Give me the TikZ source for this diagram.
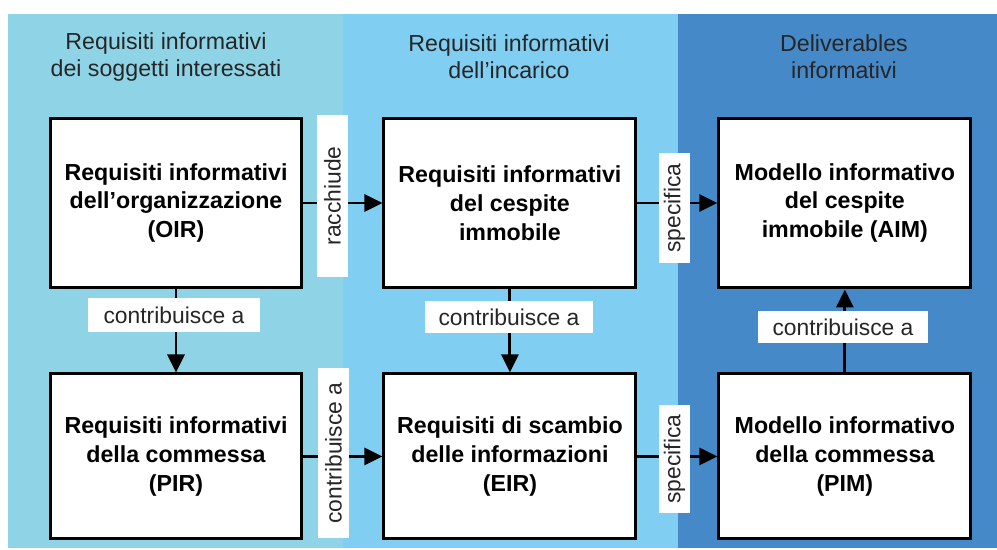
\documentclass[tikz,border=0pt]{standalone}
\usepackage{fontspec}
\setmainfont{Liberation Sans}
\usetikzlibrary{positioning,calc,arrows.meta}

\definecolor{colStake}{HTML}{8FD4E6}
\definecolor{colAppt}{HTML}{80CFF3}
\definecolor{colDeliv}{HTML}{4589C9}

\tikzset{
    reqbox/.style={draw=black, line width=1.7pt, fill=white, align=center,
        minimum width=5.04cm, minimum height=3.4cm, inner sep=0pt,
        font=\fontsize{13.2}{16.4}\selectfont\bfseries},
    linklabel/.style={fill=white, inner sep=0pt, minimum height=0.63cm,
        font=\fontsize{13}{15}\selectfont, text=black!85},
    colhead/.style={align=center, font=\fontsize{13.2}{15.4}\selectfont, text=black!85},
    flow/.style={line width=1.7pt, -{Triangle[length=0.36cm, width=0.34cm]}},
}

\begin{document}
\begin{tikzpicture}[x=0.02cm, y=-0.02cm]
            % columns
            \fill[white] (0, 0) rectangle (997, 550);
            \fill[colStake] (8, 14) rectangle (343, 548);
            \fill[colAppt] (343, 14) rectangle (678, 548);
            \fill[colDeliv] (678, 14) rectangle (997, 548);

            \node[colhead] (headStake) at (166, 57) {Requisiti informativi\\dei soggetti interessati};
            \node[colhead] (headAppt) at (509, 57) {Requisiti informativi\\dell’incarico};
            \node[colhead] (headDeliv) at (844, 57) {Deliverables\\informativi};

            % boxes
            \node[reqbox] (oir) at (176, 203) {Requisiti informativi\\dell’organizzazione\\(OIR)};
            \node[reqbox, right=1.58cm of oir] (air) {Requisiti informativi\\del cespite\\immobile};
            \node[reqbox, right=1.6cm of air] (aim) {Modello informativo\\del cespite\\immobile (AIM)};

            \node[reqbox, minimum height=3.3cm, below=1.66cm of oir] (pir) {Requisiti informativi\\della commessa\\(PIR)};
            \node[reqbox, minimum height=3.3cm, right=1.58cm of pir] (eir) {Requisiti di scambio\\delle informazioni\\(EIR)};
            \node[reqbox, minimum height=3.3cm, right=1.6cm of eir] (pim) {Modello informativo\\della commessa\\(PIM)};

            % links
            \draw[flow] (oir) -- (air);
            \draw[flow] (air) -- (aim);
            \draw[flow] (pir) -- (eir);
            \draw[flow] (eir) -- (pim);
            \draw[flow] (oir) -- (pir);
            \draw[flow] (air) -- (eir);
            \draw[flow] (pim) -- (aim);

            \node[linklabel, rotate=90, minimum width=3.24cm] (lblContains) at (332.5, 196) {racchiude};
            \node[linklabel, rotate=90, minimum width=2.2cm] (lblSpecA) at (674.5, 208) {specifica};
            \node[linklabel, rotate=90, minimum width=3.4cm] (lblContribB) at (333.5, 453) {contribuisce a};
            \node[linklabel, rotate=90, minimum width=2.16cm] (lblSpecB) at (674.5, 459) {specifica};

            \node[linklabel, minimum width=3.44cm, minimum height=0.68cm] (lblContribL) at (174, 315) {contribuisce a};
            \node[linklabel, minimum width=3.36cm] (lblContribM) at (509, 317) {contribuisce a};
            \node[linklabel, minimum width=3.4cm] (lblContribR) at (843, 327) {contribuisce a};
        \end{tikzpicture}
\end{document}
